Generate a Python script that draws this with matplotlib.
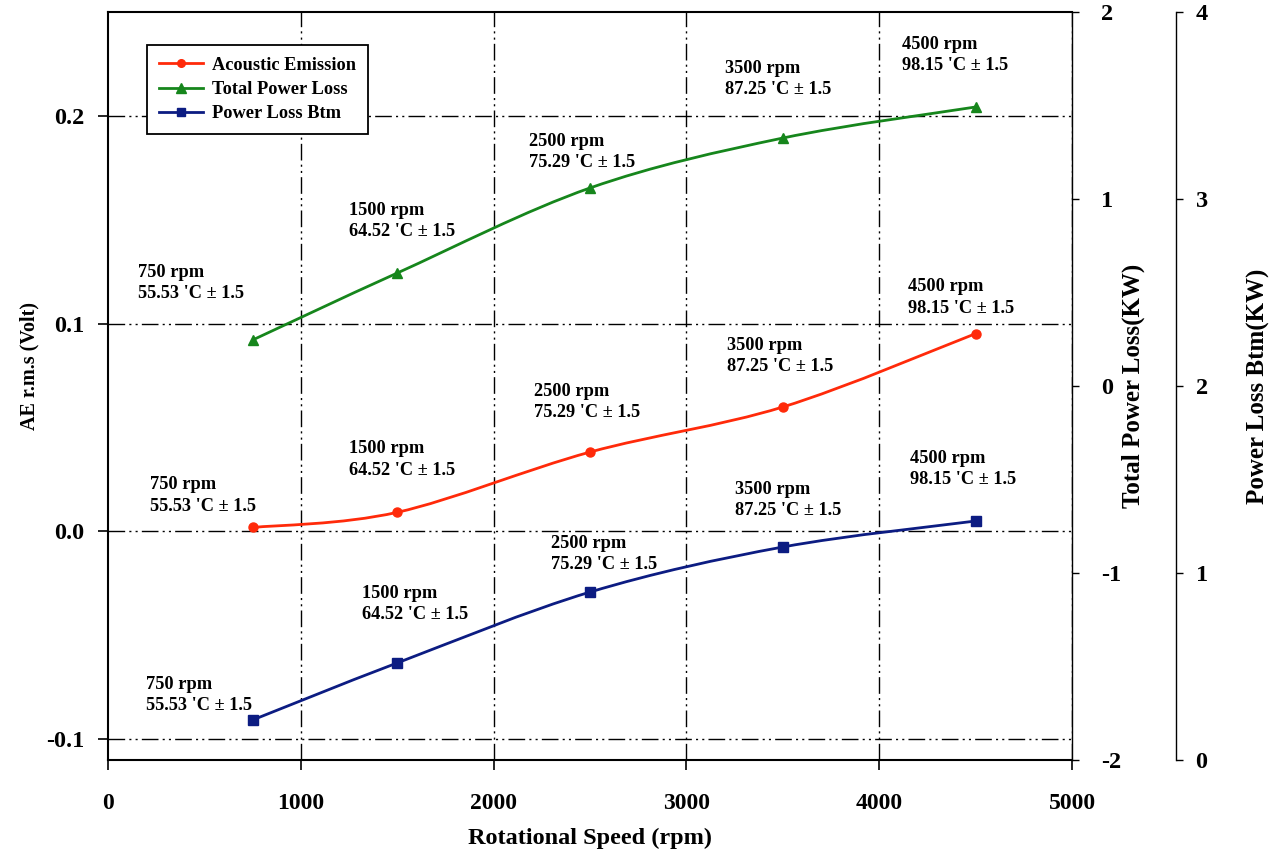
import matplotlib
matplotlib.use("Agg")
import matplotlib.pyplot as plt
from matplotlib.path import Path
from matplotlib.patches import PathPatch
from matplotlib.lines import Line2D
import numpy as np

plt.rcParams['font.family'] = ['Liberation Serif', 'DejaVu Serif']
plt.rcParams['font.weight'] = 'bold'

# ---- data ----
rpm = [750, 1500, 2500, 3500, 4500]
ae_rms = [0.0019, 0.0092, 0.0382, 0.0599, 0.0952]
total_loss = [0.246, 0.604, 1.059, 1.326, 1.492]
btm_loss = [0.214, 0.519, 0.898, 1.139, 1.278]
temps = ['55.53', '64.52', '75.29', '87.25', '98.15']

x_ticks = [0, 1000, 2000, 3000, 4000, 5000]
ae_ticks = [-0.1, 0.0, 0.1, 0.2]
ae_ticklabels = ['-0.1', '0.0', '0.1', '0.2']
total_ticks = [-2, -1, 0, 1, 2]
btm_ticks = [0, 1, 2, 3, 4]

# label offsets (pixels, relative to points; block centre)
off_total = [(-115, -57), (-48, -52), (-61, -36), (-58, -59), (-74, -52)]
off_ae = [(-103, -32), (-48, -53), (-56, -50), (-56, -51), (-68, -36)]
off_btm = [(-107, -25), (-35, -59), (-39, -38), (-48, -47), (-66, -52)]

RED = '#ff2a0a'
GREEN = '#16861c'
BLUE = '#0c1c82'
GRID_LS = (0, (12, 3, 1.5, 3, 1.5, 3))

fig = plt.figure(figsize=(12.75, 8.57), dpi=100)
ax = fig.add_axes([108/1275, 97/857, 964/1275, 748/857])
ax2 = ax.twinx()
ax3 = ax.twinx()


def smooth_curve(axis, xs, ys, color):
    xs = np.asarray(xs, float)
    ys = np.asarray(ys, float)
    n = len(xs)
    verts = [(xs[0], ys[0])]
    codes = [Path.MOVETO]
    for i in range(n - 1):
        p0 = np.array([xs[max(i - 1, 0)], ys[max(i - 1, 0)]])
        p1 = np.array([xs[i], ys[i]])
        p2 = np.array([xs[i + 1], ys[i + 1]])
        p3 = np.array([xs[min(i + 2, n - 1)], ys[min(i + 2, n - 1)]])
        c1 = p1 + (p2 - p0) / 6.0
        c2 = p2 - (p3 - p1) / 6.0
        verts += [tuple(c1), tuple(c2), tuple(p2)]
        codes += [Path.CURVE4] * 3
    patch = PathPatch(Path(verts, codes), facecolor='none', edgecolor=color,
                      lw=2.0, transform=axis.transData, zorder=3)
    axis.add_patch(patch)


# AE
smooth_curve(ax, rpm, ae_rms, RED)
ax.plot(rpm, ae_rms, 'o', color=RED, ms=6.5, zorder=4)
# Total power loss
smooth_curve(ax2, rpm, total_loss, GREEN)
ax2.plot(rpm, total_loss, '^', color=GREEN, ms=7.5, zorder=4)
# Btm
smooth_curve(ax3, rpm, btm_loss, BLUE)
ax3.plot(rpm, btm_loss, 's', color=BLUE, ms=6.5, zorder=4)

ax.set_xlim(0, 5000)
ax.set_ylim(-0.11, 0.25)
ax2.set_ylim(-2, 2)
ax3.set_ylim(0, 4)

ax.set_xticks(x_ticks)
ax.set_xticklabels([str(t) for t in x_ticks])
ax.set_yticks(ae_ticks)
ax.set_yticklabels(ae_ticklabels)
ax2.set_yticks(total_ticks)
ax2.set_yticklabels([str(t) for t in total_ticks])
ax3.set_yticks(btm_ticks)
ax3.set_yticklabels([str(t) for t in btm_ticks])

tick_fs = 17.5
ax.tick_params(axis='both', direction='out', length=7, width=1.2,
               labelsize=tick_fs, pad=10)
ax.tick_params(axis='x', labelsize=17, pad=17)
ax2.tick_params(axis='y', direction='out', length=5, width=1, labelsize=tick_fs, pad=16)
ax3.tick_params(axis='y', direction='out', length=5, width=1, labelsize=tick_fs, pad=9)

# grid
for gx in x_ticks[1:]:
    ax.axvline(gx, color='black', lw=1.0, ls=GRID_LS, zorder=1)
for gy in ae_ticks:
    ax.axhline(gy, color='black', lw=1.0, ls=GRID_LS, zorder=1)

for s in ['left', 'bottom', 'top']:
    ax.spines[s].set_linewidth(1.5)
ax.spines['right'].set_visible(False)
ax2.spines['left'].set_visible(False)
ax2.spines['top'].set_visible(False)
ax2.spines['bottom'].set_visible(False)
ax2.spines['right'].set_linewidth(1.0)
ax3.spines['left'].set_visible(False)
ax3.spines['top'].set_visible(False)
ax3.spines['bottom'].set_visible(False)
ax3.spines['right'].set_position(('axes', 1.108))
ax3.spines['right'].set_linewidth(1.0)

ax.set_xlabel('Rotational Speed (rpm)', fontsize=17.5, fontweight='bold')
ax.xaxis.set_label_coords(0.5, -0.09)
ax.set_ylabel('AE r.m.s (Volt)', fontsize=14.5, fontweight='bold')
ax.yaxis.set_label_coords(-0.071, 0.527)
ax2.set_ylabel('Total Power Loss(KW)', fontsize=18, fontweight='bold')
ax2.yaxis.set_label_coords(1.051, 0.5)
ax3.set_ylabel('Power Loss Btm(KW)', fontsize=18, fontweight='bold')
ax3.yaxis.set_label_coords(1.181, 0.5)

ann_fs = 13.2


def annotate(axis, ys, offs):
    for x, y, t, (dx, dy) in zip(rpm, ys, temps, offs):
        axis.annotate(f"{x} rpm\n{t} 'C ± 1.5", xy=(x, y), xytext=(dx, -dy),
                      textcoords='offset pixels', ha='left', va='center',
                      fontsize=ann_fs, fontweight='bold', linespacing=1.35,
                      zorder=5)


annotate(ax, ae_rms, off_ae)
annotate(ax2, total_loss, off_total)
annotate(ax3, btm_loss, off_btm)

handles = [
    Line2D([], [], color=RED, marker='o', ms=5.5, lw=2),
    Line2D([], [], color=GREEN, marker='^', ms=6.5, lw=2),
    Line2D([], [], color=BLUE, marker='s', ms=5.5, lw=2),
]
leg = ax3.legend(handles, ['Acoustic Emission', 'Total Power Loss', 'Power Loss Btm'],
                 loc='upper left', bbox_to_anchor=(0.0405, 0.956), borderaxespad=0,
                 fancybox=False, framealpha=1, edgecolor='black',
                 prop={'family': 'Liberation Serif', 'weight': 'bold', 'size': 13.2},
                 handlelength=2.4, handletextpad=0.5, labelspacing=0.4,
                 borderpad=0.65)
leg.get_frame().set_linewidth(1.3)

fig.savefig('out.png', dpi=100)
